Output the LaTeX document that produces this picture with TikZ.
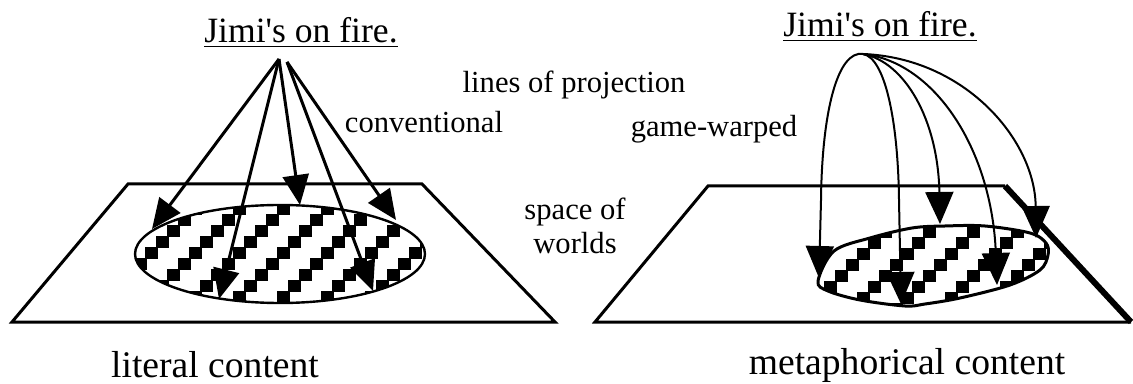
\documentclass[tikz,border=0pt]{standalone}
\usepackage{fontspec}
\setmainfont{Liberation Serif}
\usetikzlibrary{arrows.meta}

\begin{document}
\begin{tikzpicture}[
  x=0.5pt, y=-0.5pt,
  big/.style={font=\fontsize{17.8}{21}\selectfont, inner sep=0pt, anchor=base},
  bottomlbl/.style={font=\fontsize{18.8}{22}\selectfont, inner sep=0pt, anchor=base},
  small/.style={font=\fontsize{15.3}{17}\selectfont, inner sep=0pt, align=center},
  floor/.style={line width=1.5pt, line join=miter},
  arr/.style={-{Triangle[length=15pt, width=13pt]}, line width=1.5pt},
  warp/.style={-{Triangle[length=16pt, width=14pt]}, line width=1pt}
]
\useasboundingbox (0,0) rectangle (1133,384);

% sentences and labels
\node[big] (jimiL) at (301,43) {\underline{Jimi\textquotesingle s on fire.}};
\node[big] (jimiR) at (880,37) {\underline{Jimi\textquotesingle s on fire.}};
\node[small, anchor=base] (lines) at (574,93) {lines of projection};
\node[small, anchor=base] (conv) at (424,133) {conventional};
\node[small, anchor=base] (warped) at (714,137) {game-warped};
\node[small] (space) at (575,226) {space of\\worlds};
\node[bottomlbl] (literal) at (215,377) {literal content};
\node[bottomlbl] (metaph) at (907,374) {metaphorical content};

% left: space of worlds with the literal region
\draw[floor] (128,184) -- (422,184) -- (555,322) -- (12,322) -- cycle;
\begin{scope}
  \clip (280,254) ellipse [x radius=145, y radius=49];
  \foreach \j in {-5,...,4}
    \foreach \k in {-2,...,7}
      \fill (145+44*\k+11*\j, 247-11*\j) rectangle ++(12.5,12.5);
\end{scope}
\draw[line width=1.2pt] (280,254) ellipse [x radius=145, y radius=49];

% right: space of worlds with the warped region
\draw[floor] (1005,186) -- (708,186) -- (595,322) -- (1131,322);
\draw[line width=3pt] (1005,186) -- (1131,322);
\begin{scope}
  \clip plot[smooth cycle, tension=0.55] coordinates {(818,281) (828,291) (860,300) (905,306) (925,304) (960,298) (1010,285) (1040,270) (1048,255) (1046,243) (1030,233) (985,226) (945,226) (912,228) (870,238) (834,251)};
  \foreach \j in {-5,...,4}
    \foreach \k in {-2,...,6}
      \fill (835+44*\k+11*\j, 270-11*\j) rectangle ++(12.5,12.5);
\end{scope}
\draw[line width=1.5pt] plot[smooth cycle, tension=0.55] coordinates {(818,281) (828,291) (860,300) (905,306) (925,304) (960,298) (1010,285) (1040,270) (1048,255) (1046,243) (1030,233) (985,226) (945,226) (912,228) (870,238) (834,251)};

% conventional lines of projection
\coordinate (apexL) at (279,59);
\coordinate (apexLb) at (287,62);
\coordinate (tipL1) at (152,229);
\coordinate (tipL2) at (219,299);
\coordinate (tipL3) at (300,205);
\coordinate (tipL4) at (373,291);
\coordinate (tipL5) at (396,220);
\draw[arr] (apexL) -- (tipL1);
\draw[arr] (apexL) -- (tipL2);
\draw[arr] (apexL) -- (tipL3);
\draw[arr] (apexLb) -- (tipL4);
\draw[arr] (apexLb) -- (tipL5);

% game-warped lines of projection
\coordinate (apexR) at (863,54);
\coordinate (tipR1) at (819,278);
\coordinate (tipR2) at (901,304);
\coordinate (tipR3) at (940,224);
\coordinate (tipR4) at (997,285);
\coordinate (tipR5) at (1036,238);
\draw[warp] (apexR) .. controls (838,50) and (822,110) .. (821,200) -- (tipR1);
\draw[warp] (apexR) .. controls (885,58) and (898,120) .. (899,200) -- (tipR2);
\draw[warp] (apexR) .. controls (905,62) and (938,120) .. (tipR3);
\draw[warp] (apexR) .. controls (935,62) and (992,150) .. (tipR4);
\draw[warp] (apexR) .. controls (965,58) and (1035,140) .. (tipR5);
\end{tikzpicture}
\end{document}
